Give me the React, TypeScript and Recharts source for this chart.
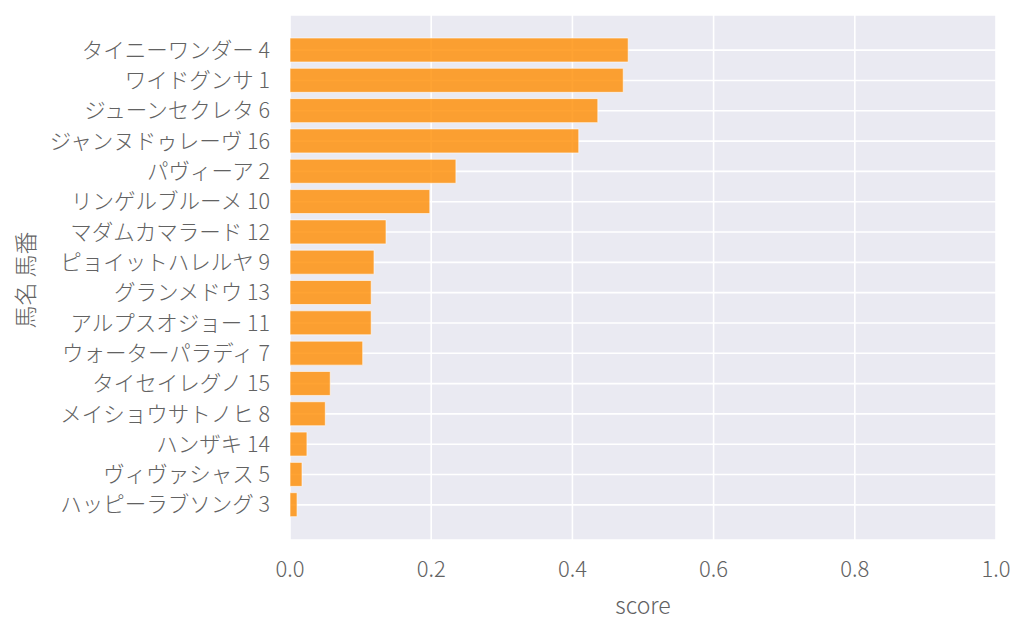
// Horse score ranking — horizontal bar chart (Recharts, vertical layout)
// Seaborn darkgrid look: #EAEAF2 panel, white grid, darkorange bars at 0.8 alpha

import { BarChart, Bar, XAxis, YAxis, CartesianGrid } from 'recharts';

const horseNames = [
  'タイニーワンダー 4',
  'ワイドグンサ 1',
  'ジューンセクレタ 6',
  'ジャンヌドゥレーヴ 16',
  'パヴィーア 2',
  'リンゲルブルーメ 10',
  'マダムカマラード 12',
  'ピョイットハレルヤ 9',
  'グランメドウ 13',
  'アルプスオジョー 11',
  'ウォーターパラディ 7',
  'タイセイレグノ 15',
  'メイショウサトノヒ 8',
  'ハンザキ 14',
  'ヴィヴァシャス 5',
  'ハッピーラブソング 3',
];

const scores = [
  0.479, 0.472, 0.436, 0.409, 0.235, 0.198, 0.136, 0.119,
  0.115, 0.115, 0.103, 0.057, 0.050, 0.024, 0.017, 0.010,
];

const xTicks = [0, 0.2, 0.4, 0.6, 0.8, 1.0];

const data = horseNames.map((name, i) => ({ name, score: scores[i] }));

const FONT = '"Noto Sans CJK JP", "Noto Sans", sans-serif';
const TEXT = '#626262';

function YLabel() {
  return (
    <text
      x={24}
      y={280}
      transform="rotate(-90 24 280)"
      textAnchor="middle"
      dominantBaseline="central"
      fontSize={23}
      fontWeight={300}
      fontFamily={FONT}
      fill={TEXT}
    >
      馬名 馬番
    </text>
  );
}

function XLabel() {
  return (
    <text
      x={643}
      y={604}
      textAnchor="middle"
      dominantBaseline="central"
      fontSize={23}
      fontWeight={300}
      fontFamily={FONT}
      fill={TEXT}
    >
      score
    </text>
  );
}

export default function App() {
  return (
    <div style={{ position: 'absolute', left: 0, top: 0, background: '#fff' }}>
      <BarChart
        width={1024}
        height={631}
        data={data}
        layout="vertical"
        margin={{ top: 15, right: 28, left: 0, bottom: 0 }}
      >
        <CartesianGrid fill="#EAEAF2" stroke="#FFFFFF" strokeWidth={1.6} />
        <XAxis
          type="number"
          domain={[0, 1]}
          ticks={xTicks}
          tickFormatter={(v: number) => v.toFixed(1)}
          axisLine={false}
          tickLine={false}
          tickSize={0}
          tickMargin={21}
          height={91}
          tick={{ fontSize: 22, fill: TEXT, fontFamily: FONT, fontWeight: 300 }}
          label={<XLabel />}
        />
        <YAxis
          type="category"
          dataKey="name"
          width={290}
          axisLine={false}
          tickLine={false}
          tickSize={0}
          tickMargin={20}
          interval={0}
          padding={{ top: 20, bottom: 20 }}
          tick={{ fontSize: 21.5, fill: TEXT, fontFamily: FONT, fontWeight: 300 }}
          label={<YLabel />}
        />
        <Bar
          dataKey="score"
          fill="#FF8C00"
          fillOpacity={0.8}
          stroke="#FFFFFF"
          strokeOpacity={0.6}
          strokeWidth={1}
          barSize={24}
          isAnimationActive={false}
        />
      </BarChart>
    </div>
  );
}
